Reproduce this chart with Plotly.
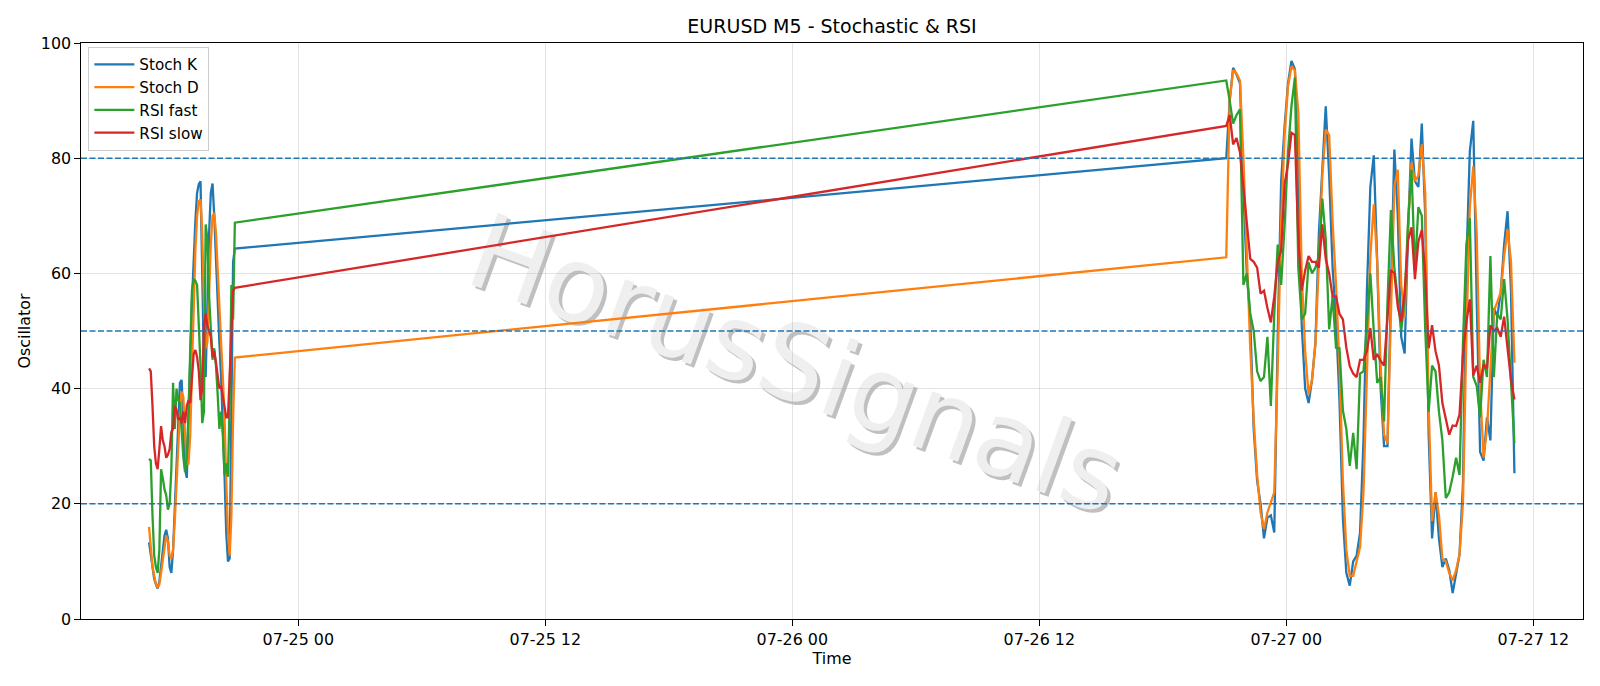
import pandas as pd
import plotly.graph_objects as go

# ---------------- data ----------------
# Friday block (5-minute bars) and Sunday/Monday block (sampled every 10 minutes)
seg1_start = "2020-07-24 16:45"
seg1_step = "5min"
seg2_start = "2020-07-26 21:05"
seg2_step = "10min"

stoch_k_seg1 = [13.3, 11, 8.5, 7, 6, 5.3, 6.5, 9, 12, 14.5,
                15.5, 14, 9, 8, 12, 20, 28, 35, 41, 41.5,
                33, 26, 24.5, 33, 45, 55, 63, 69, 74, 75.5,
                76, 60, 44, 42, 55, 67, 74, 75.6, 70, 62,
                55, 48, 42, 35, 25, 15, 10, 10.5, 35, 62,
                64.3]
stoch_d_seg1 = [16, 12, 9, 7.5, 6, 5.5, 6, 8, 10.5, 13,
                14.5, 13.5, 11, 10.5, 12, 17, 24, 31, 36, 39.5,
                38.5, 32, 27, 27, 32, 43, 55, 64, 70, 72.5,
                72.8, 67, 55, 47, 48, 57, 65, 70, 70.5, 67,
                60, 54, 48, 42, 35, 24, 15, 11, 18, 35,
                45.4]
rsi_fast_seg1 = [27.8, 27.5, 18, 11, 9, 8, 12, 26, 24.5, 22.5,
                 21.5, 19, 20, 26, 41, 33, 40, 38, 37.5, 33,
                 28, 25.5, 28, 36, 48, 57, 59, 58.7, 58, 52,
                 44, 34, 36, 68.5, 66, 56, 51, 45, 47, 44,
                 39, 33, 36, 32, 25, 27, 24.7, 38, 58, 52,
                 68.8]
rsi_slow_seg1 = [43.5, 43, 37, 30, 27, 26, 29.5, 33.5, 31, 30,
                 28, 28.5, 29.5, 32.5, 33, 37, 36.3, 34.6, 35, 34,
                 36, 34, 37, 38, 37.5, 42, 46, 46.7, 45.5, 43,
                 38, 40, 51, 53, 51, 50, 49, 45.5, 46.5, 44.5,
                 42, 40, 40.5, 38.5, 37, 35, 35, 43, 52, 57,
                 57.5]

stoch_k_seg2 = [80, 90, 95.7, 94.5, 93, 74, 60, 52, 33, 24,
                20, 14, 17.6, 18, 15, 49, 76, 85.5, 93, 96.9,
                95.5, 78, 51, 40, 37.5, 41.5, 48, 67, 79, 89,
                77, 61, 52, 38, 17.5, 8, 5.8, 10, 11, 15,
                31, 57, 75, 80.5, 62, 40, 30, 30, 57, 81.5,
                70, 49, 46.1, 67.4, 83.4, 76, 75, 86, 70, 32,
                14, 22, 14, 9, 10.5, 8.5, 4.5, 8, 11.2, 23.4,
                61.9, 81.2, 86.5, 55.5, 29, 27.5, 35, 31, 54, 52.5,
                56.7, 65, 70.8, 57, 25.3]
stoch_d_seg2 = [62.8, 90, 95.3, 94.7, 93.5, 80, 63.5, 47, 34.5, 25,
                18.5, 15.6, 18.5, 20.1, 22, 44, 69, 84, 92.5, 95.9,
                95.3, 88, 60, 46.5, 39, 41.5, 47.8, 62, 77, 85,
                84, 69, 58, 44, 24, 12, 7.5, 7.5, 10, 12.5,
                22, 45, 63, 72, 62, 44, 32, 30.5, 51, 75,
                78, 58, 52.3, 68.3, 79.2, 76, 77, 82.4, 74, 37,
                17, 22, 18, 10.5, 10, 8, 6.7, 8.5, 11.2, 20.1,
                49, 71.5, 78.6, 67, 40, 28, 33, 43, 53.5, 55,
                56.7, 63, 67.6, 62, 44.5]
rsi_fast_seg2 = [93.5, 90, 86, 87.5, 88.5, 58, 60, 53, 50, 43,
                 41.3, 42, 49, 37, 53, 65, 58, 68.3, 81, 89,
                 94, 61, 52, 53, 61.9, 60, 61, 63, 73, 66,
                 50.3, 56, 47.1, 47, 36.2, 33, 26.6, 32.3, 26, 42.6,
                 43, 51, 60, 50, 41, 42, 34.3, 55, 71, 61,
                 56, 50, 55.5, 69, 78, 60.6, 71.5, 70, 50.3, 36,
                 44, 43, 36, 31, 21, 22, 24.7, 28, 25, 47.8,
                 65, 69.6, 42, 40.5, 35, 45, 42, 63, 42, 53,
                 52, 59, 52, 40, 30.5]
rsi_slow_seg2 = [85.6, 87.5, 82.4, 83.5, 81, 75, 68, 62.5, 62, 61,
                 56.5, 57, 54, 51.5, 56, 61.9, 64, 75.5, 79, 84.4,
                 84, 66, 57, 60.5, 63, 62, 62, 61, 68.5, 62.5,
                 60, 56, 56, 53, 52, 47.1, 43.9, 42.6, 42, 45,
                 45, 46.5, 50.5, 45, 46, 44.8, 44, 53, 60.6, 60,
                 54.2, 51.6, 56.8, 65.7, 68, 59, 65.5, 67.5, 60, 47,
                 51, 46.5, 44, 37.5, 35, 32, 33.6, 33.5, 35.5, 45.8,
                 51.6, 55.5, 42.3, 44, 41, 44.2, 43.5, 51, 50, 50.5,
                 49, 52.5, 47, 41.5, 38.1]

series_names = ["Stoch K", "Stoch D", "RSI fast", "RSI slow"]
series_colors = ["#1f77b4", "#ff7f0e", "#2ca02c", "#d62728"]
levels = [80, 50, 20]
y_ticks = [0, 20, 40, 60, 80, 100]

t1 = list(pd.date_range(seg1_start, periods=len(stoch_k_seg1), freq=seg1_step))
t2 = list(pd.date_range(seg2_start, periods=len(stoch_k_seg2), freq=seg2_step))
times = t1 + t2

values = [
    stoch_k_seg1 + stoch_k_seg2,
    stoch_d_seg1 + stoch_d_seg2,
    rsi_fast_seg1 + rsi_fast_seg2,
    rsi_slow_seg1 + rsi_slow_seg2,
]

FONT = "DejaVu Sans"

fig = go.Figure()
for name, vals, col in zip(series_names, values, series_colors):
    fig.add_trace(go.Scatter(
        x=times, y=vals, mode="lines", name=name,
        line=dict(color=col, width=2.3),
    ))

shapes = []
for lv in levels:
    shapes.append(dict(type="line", xref="paper", x0=0, x1=1, yref="y", y0=lv, y1=lv,
                       line=dict(color="#1f77b4", width=1.5, dash="6px,2.5px"), layer="above"))

# watermark (shadow + face), drawn between grid and traces
wm_x, wm_y = 0.478, 0.455
for dx, dy, col in [(0.0022, -0.006, "#c0c0c0"), (0.0, 0.0, "#efefef")]:
    shapes.append(dict(
        type="rect", xref="paper", yref="paper",
        x0=wm_x - 0.1 + dx, x1=wm_x + 0.1 + dx, y0=wm_y - 0.1 + dy, y1=wm_y + 0.1 + dy,
        line=dict(width=0), fillcolor="rgba(0,0,0,0)", layer="between",
        label=dict(text="HorusSignals", textangle=20, textposition="middle center",
                   font=dict(family=FONT, size=105, color=col)),
    ))

fig.update_layout(
    width=1600, height=686,
    margin=dict(l=81, r=17, t=43, b=67),
    paper_bgcolor="white", plot_bgcolor="white",
    font=dict(family=FONT, size=15.9, color="black"),
    title=dict(text="EURUSD M5 - Stochastic & RSI", x=0.5, xref="paper",
               y=1 - 26.5 / 686, yref="container", yanchor="middle", xanchor="center",
               font=dict(family=FONT, size=19, color="black")),
    showlegend=True,
    legend=dict(x=0.0049, y=0.993, xanchor="left", yanchor="top",
                bgcolor="rgba(255,255,255,0.8)", bordercolor="#cccccc", borderwidth=1,
                itemwidth=40,
                font=dict(family=FONT, size=15.2, color="black")),
    shapes=shapes,
)

fig.update_xaxes(
    type="date",
    range=["2020-07-24 13:26:36", "2020-07-27 14:24:54"],
    tick0="2020-07-25 00:00", dtick=12 * 3600 * 1000, tickformat="%m-%d %H",
    ticks="outside", ticklen=5.6, tickwidth=1.2, tickcolor="black",
    showline=True, linecolor="black", linewidth=1.2, mirror=True,
    showgrid=True, gridcolor="rgba(176,176,176,0.35)", gridwidth=1.2,
    zeroline=False,
    title=dict(text="Time", standoff=2, font=dict(size=15.9, color="black")),
    tickfont=dict(size=15.9, color="black"),
)
fig.update_yaxes(
    range=[0, 100], tickvals=y_ticks,
    ticks="outside", ticklen=5.6, tickwidth=1.2, tickcolor="black",
    showline=True, linecolor="black", linewidth=1.2, mirror=True,
    showgrid=True, gridcolor="rgba(176,176,176,0.35)", gridwidth=1.2,
    zeroline=False,
    title=dict(text="Oscillator", standoff=6, font=dict(size=15.9, color="black")),
    tickfont=dict(size=15.9, color="black"),
)

fig.write_html("out.html")
